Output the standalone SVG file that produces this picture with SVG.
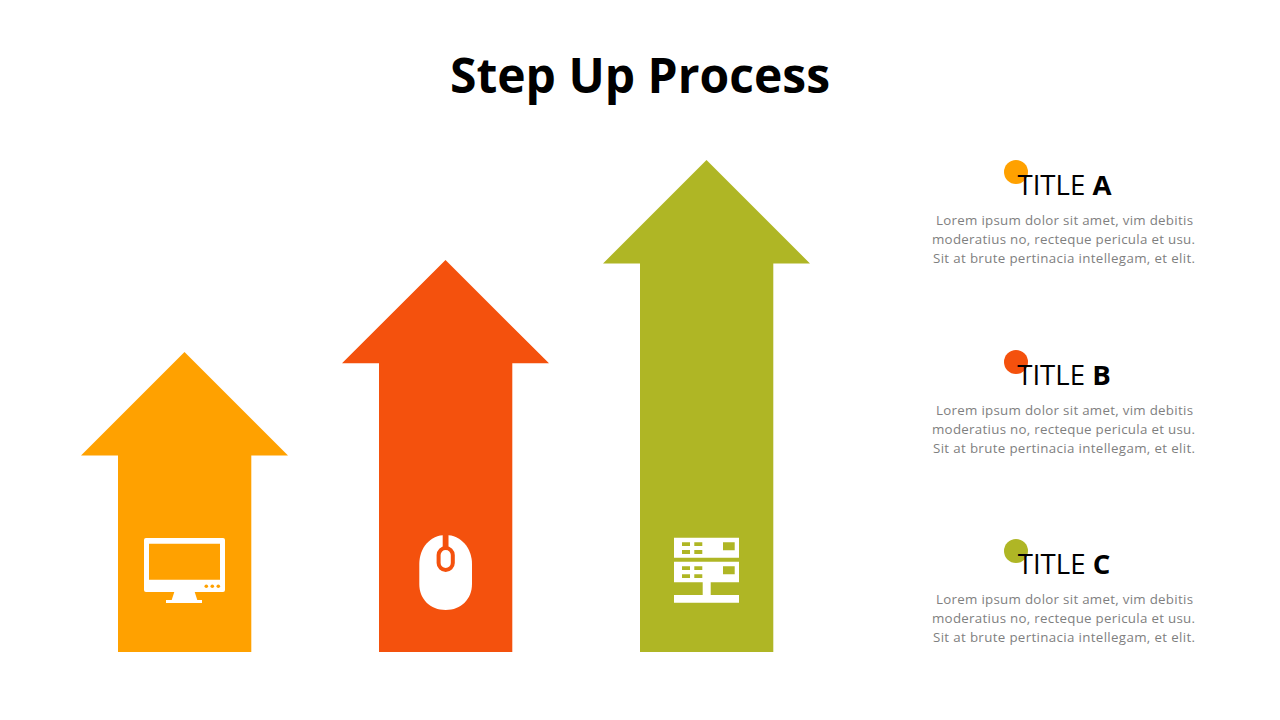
<svg xmlns="http://www.w3.org/2000/svg" width="1280" height="720" viewBox="0 0 1280 720">
<style>
text{font-family:"Open Sans","DejaVu Sans",sans-serif}
.h{font-size:48px;font-weight:700;fill:#000;text-anchor:middle}
.t{font-size:27.6px;fill:#000;text-anchor:middle}
.t tspan{font-weight:700}
.b{font-size:13.33px;fill:#7f7f7f}
.o{fill:#ffa100}.r{fill:#f4510d}.g{fill:#afb625}.w{fill:#fff}
</style>
<rect width="1280" height="720" fill="#fff"/>
<text class="h" x="640" y="93">Step Up Process</text>
<g id="arrow-a">
<path class="o" d="M184.500 352L288 455.500H251.300V652H118V455.500H81Z"/>
<path class="w" fill-rule="evenodd" d="M146 538H223Q225 538 225 540V590Q225 592 223 592H194.700L197.300 600H202V603H166V600H171.700L174.300 592H146Q144 592 144 590V540Q144 538 146 538ZM149 543.700V579.700H220V543.700Z"/>
<circle class="o" cx="206.300" cy="586.300" r="1.800"/><circle class="o" cx="212.300" cy="586.300" r="1.800"/><circle class="o" cx="218.300" cy="586.300" r="1.800"/>
</g>
<g id="arrow-b">
<path class="r" d="M445.500 260L549 363.300H512.300V652H379V363.300H342Z"/>
<path class="w" d="M445.700 535C461 535 472 548 472 564V584C472 599 461 610 445.700 610C430 610 419.300 599 419.300 584V564C419.300 548 430 535 445.700 535Z"/>
<rect class="r" x="442.700" y="534" width="5.800" height="13"/>
<rect x="438.600" y="548" width="14.200" height="22" rx="7.100" fill="#fff" stroke="#f4510d" stroke-width="4"/>
</g>
<g id="arrow-c">
<path class="g" d="M706.500 160L810 263.500H773.300V652H640V263.500H603Z"/>
<path class="w" d="M674 537.700H739V557.700H674ZM674 561.700H739V582.300H710.700V595H739V602.700H674V595H702.700V582.300H674Z"/>
<path class="g" d="M682 542.300h8v3.700h-8zM694.300 542.300h8v3.700h-8zM682 550h8v4h-8zM694.300 550h8v4h-8zM723 542.300h11.700v8h-11.700zM682 566.300h8v3.700h-8zM694.300 566.300h8v3.700h-8zM682 574.300h8v3.700h-8zM694.300 574.300h8v3.700h-8zM723 566.300h11.700v8h-11.700z"/>
</g>
<g id="item-a">
<circle class="o" cx="1016" cy="172" r="12"/>
<text class="t" x="1064.500" y="195">TITLE <tspan>A</tspan></text>
<text class="b" x="936" y="225" textLength="257">Lorem ipsum dolor sit amet, vim debitis</text>
<text class="b" x="932" y="244" textLength="263">moderatius no, recteque pericula et usu.</text>
<text class="b" x="933" y="263" textLength="262">Sit at brute pertinacia intellegam, et elit.</text>
</g>
<g id="item-b">
<circle class="r" cx="1016" cy="362" r="12"/>
<text class="t" x="1064" y="385">TITLE <tspan>B</tspan></text>
<text class="b" x="936" y="415" textLength="257">Lorem ipsum dolor sit amet, vim debitis</text>
<text class="b" x="932" y="434" textLength="263">moderatius no, recteque pericula et usu.</text>
<text class="b" x="933" y="453" textLength="262">Sit at brute pertinacia intellegam, et elit.</text>
</g>
<g id="item-c">
<circle class="g" cx="1016" cy="551" r="12"/>
<text class="t" x="1064" y="574">TITLE <tspan>C</tspan></text>
<text class="b" x="936" y="604" textLength="257">Lorem ipsum dolor sit amet, vim debitis</text>
<text class="b" x="932" y="623" textLength="263">moderatius no, recteque pericula et usu.</text>
<text class="b" x="933" y="642" textLength="262">Sit at brute pertinacia intellegam, et elit.</text>
</g>
<g id="connectors"/>
</svg>
